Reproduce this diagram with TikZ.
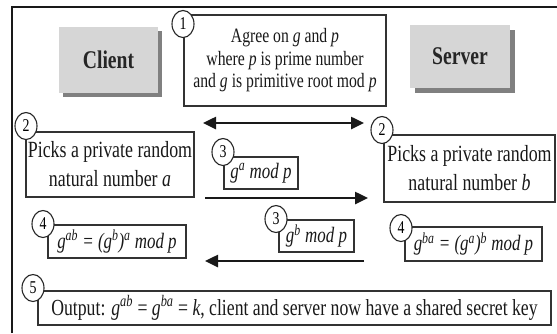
\documentclass[tikz,border=0pt]{standalone}
\usepackage{fontspec}
\setmainfont{Liberation Serif}[FakeStretch=0.77]
\usetikzlibrary{arrows.meta,shapes.geometric,shadows}
\begin{document}
\begin{tikzpicture}[x=1pt,y=-1pt,
  box/.style={draw=black!80, line width=1.1pt, inner sep=0pt, align=center, text=black!90, fill=white},
  num/.style={ellipse, draw=black!85, line width=1.1pt, fill=white, minimum width=22pt, minimum height=27pt, inner sep=0pt, font=\fontsize{18}{18}\selectfont},
  arr/.style={line width=2.5pt, draw=black!90, -{Triangle[length=13pt,width=12pt]}},
  dbl/.style={line width=2.5pt, draw=black!90, {Triangle[length=13pt,width=12pt]}-{Triangle[length=13pt,width=12pt]}},
  party/.style={fill=black!16, inner sep=0pt, font=\fontsize{25.5}{25.5}\selectfont\bfseries, text=black!85},
  txt/.style={font=\fontsize{23.2}{29}\selectfont},
  eqn/.style={font=\fontsize{22}{22}\selectfont\itshape}
]
\useasboundingbox (0,0) rectangle (557,333);
\fill[white] (0,0) rectangle (557,333);
% outer frame
\coordinate (fb) at (12,333);
\coordinate (fc) at (12,7);
\coordinate (fr) at (557,7);
\draw[line width=1.8pt, black!90] (fb) -- (fc) -- (fr);

% parties
\node[party, minimum width=99pt, minimum height=66pt,
  drop shadow={fill=black!50, opacity=1, shadow xshift=4pt, shadow yshift=-4pt}] (client) at (108.5,60) {Client};
\node[party, minimum width=100pt, minimum height=63pt,
  drop shadow={fill=black!50, opacity=1, shadow xshift=5pt, shadow yshift=-5pt}] (server) at (460,56.5) {Server};

% step 1
\node[box, minimum width=202pt, minimum height=91pt, font=\fontsize{20.4}{22.5}\selectfont] (agree) at (285,60.5)
  {Agree on \textit{g} and \textit{p}\\ where \textit{p} is prime number\\ and \textit{g} is primitive root mod \textit{p}};
\node[num] (n1) at (183,24) {1};
\coordinate (d1) at (203,123);
\coordinate (d2) at (364,123);
\draw[dbl] (d1) -- (d2);

% step 2
\node[box, txt, minimum width=168pt, minimum height=65pt] (picka) at (110,164.5)
  {Picks a private random\\ natural number \textit{a}};
\node[num] (n2a) at (26,126) {2};
\node[box, txt, minimum width=171pt, minimum height=67pt] (pickb) at (469.5,168.5)
  {Picks a private random\\ natural number \textit{b}};
\node[num] (n2b) at (382,130) {2};

% step 3
\node[box, eqn, minimum width=74pt, minimum height=32pt] (ga) at (261,173)
  {g\textsuperscript{a} mod p};
\node[num] (n3a) at (223,152) {3};
\coordinate (ra1) at (205,198);
\coordinate (ra2) at (368,198);
\draw[arr] (ra1) -- (ra2);

\node[box, eqn, minimum width=75pt, minimum height=32pt] (gb) at (316.5,236)
  {g\textsuperscript{b} mod p};
\node[num] (n3b) at (276,219) {3};
\coordinate (la1) at (364,261);
\coordinate (la2) at (205,261);
\draw[arr] (la1) -- (la2);

% step 4
\node[box, eqn, minimum width=138pt, minimum height=33pt] (ka) at (117,241.5)
  {g\textsuperscript{ab} = (g\textsuperscript{b})\textsuperscript{a} mod p};
\node[num] (n4a) at (43,224) {4};
\node[box, eqn, minimum width=137pt, minimum height=34pt] (kb) at (473.5,244)
  {g\textsuperscript{ba} = (g\textsuperscript{a})\textsuperscript{b} mod p};
\node[num] (n4b) at (401,228) {4};

% step 5
\node[box, font=\fontsize{23}{23}\selectfont, minimum width=513pt, minimum height=34pt] (out) at (294.5,308)
  {Output: \textit{g}\textsuperscript{\textit{ab}} = \textit{g}\textsuperscript{\textit{ba}} = \textit{k}, client and server now have a shared secret key};
\node[num] (n5) at (33,288) {5};
\end{tikzpicture}
\end{document}
